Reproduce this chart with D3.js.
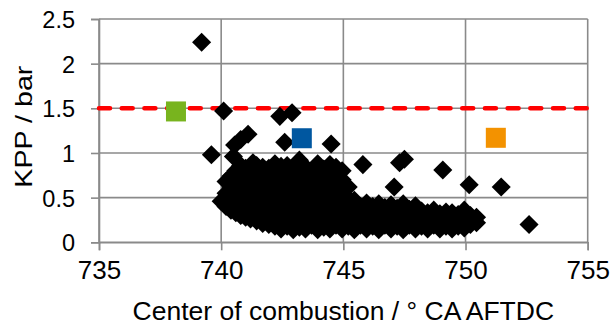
<!DOCTYPE html>
<html>
<head>
<meta charset="utf-8">
<script src="https://cdn.jsdelivr.net/npm/d3@7"></script>
<style>
  html, body { margin: 0; padding: 0; background: #fff; }
  svg { display: block; font-family: Arial, "Liberation Sans", sans-serif; }
</style>
</head>
<body>
<svg id="chart" width="612" height="326"></svg>
<script>
// Axis ticks
const xTicks = [735, 740, 745, 750, 755];
const yTicks = [0, 0.5, 1, 1.5, 2, 2.5];

// KPP limit
const kppLimit = 1.5;

// Individual cycles: [center of combustion (° CA), KPP (bar)]
const cycles = [
  [739.2, 2.24], [740.1, 1.47], [739.6, 0.98], [742.4, 1.41], [742.9, 1.45],
  [740.55, 1.09], [740.8, 1.15], [741.1, 1.21], [742.6, 1.12], [744.5, 1.10],
  [740.5, 0.96], [741.3, 0.89], [743.2, 0.92], [745.8, 0.87], [747.3, 0.89],
  [747.5, 0.93], [749.07, 0.81], [747.08, 0.62], [750.15, 0.645], [751.46, 0.62],
  [752.6, 0.20],
  [740.0, 0.46],
  [740.2, 0.40], [740.2, 0.55], [740.2, 0.68],
  [740.4, 0.36], [740.4, 0.48], [740.4, 0.62], [740.4, 0.74],
  [740.6, 0.33], [740.6, 0.44], [740.6, 0.57], [740.6, 0.70], [740.6, 0.80],
  [740.8, 0.30], [740.8, 0.41], [740.8, 0.52], [740.8, 0.64], [740.8, 0.77], [740.8, 0.86],
  [741.0, 0.28], [741.0, 0.38], [741.0, 0.49], [741.0, 0.60], [741.0, 0.71], [741.0, 0.83],
  [741.2, 0.26], [741.2, 0.36], [741.2, 0.47], [741.2, 0.58], [741.2, 0.69], [741.2, 0.80],
  [741.45, 0.24], [741.45, 0.33], [741.45, 0.44], [741.45, 0.55], [741.45, 0.66], [741.45, 0.77], [741.45, 0.86],
  [741.7, 0.21], [741.7, 0.31], [741.7, 0.42], [741.7, 0.52], [741.7, 0.63], [741.7, 0.74], [741.7, 0.84],
  [741.95, 0.20], [741.95, 0.29], [741.95, 0.39], [741.95, 0.50], [741.95, 0.61], [741.95, 0.72], [741.95, 0.83],
  [742.2, 0.18], [742.2, 0.27], [742.2, 0.37], [742.2, 0.48], [742.2, 0.58], [742.2, 0.69], [742.2, 0.80], [742.2, 0.88],
  [742.45, 0.15], [742.45, 0.25], [742.45, 0.35], [742.45, 0.45], [742.45, 0.56], [742.45, 0.67], [742.45, 0.78], [742.45, 0.85],
  [742.7, 0.18], [742.7, 0.26], [742.7, 0.34], [742.7, 0.44], [742.7, 0.54], [742.7, 0.65], [742.7, 0.76], [742.7, 0.86],
  [742.95, 0.14], [742.95, 0.24], [742.95, 0.33], [742.95, 0.43], [742.95, 0.53], [742.95, 0.63], [742.95, 0.74], [742.95, 0.84],
  [743.2, 0.17], [743.2, 0.25], [743.2, 0.34], [743.2, 0.44], [743.2, 0.55], [743.2, 0.66], [743.2, 0.78],
  [743.45, 0.15], [743.45, 0.23], [743.45, 0.32], [743.45, 0.42], [743.45, 0.52], [743.45, 0.62], [743.45, 0.73], [743.45, 0.84],
  [743.7, 0.19], [743.7, 0.27], [743.7, 0.35], [743.7, 0.45], [743.7, 0.56], [743.7, 0.68], [743.7, 0.80],
  [743.95, 0.14], [743.95, 0.24], [743.95, 0.33], [743.95, 0.43], [743.95, 0.53], [743.95, 0.64], [743.95, 0.76], [743.95, 0.88],
  [744.2, 0.17], [744.2, 0.26], [744.2, 0.36], [744.2, 0.46], [744.2, 0.57], [744.2, 0.69], [744.2, 0.82],
  [744.45, 0.15], [744.45, 0.24], [744.45, 0.34], [744.45, 0.44], [744.45, 0.55], [744.45, 0.66], [744.45, 0.78], [744.45, 0.87],
  [744.7, 0.19], [744.7, 0.27], [744.7, 0.35], [744.7, 0.46], [744.7, 0.58], [744.7, 0.71], [744.7, 0.84],
  [744.95, 0.15], [744.95, 0.24], [744.95, 0.34], [744.95, 0.45], [744.95, 0.57], [744.95, 0.70], [744.95, 0.80],
  [745.2, 0.18], [745.2, 0.26], [745.2, 0.37], [745.2, 0.49], [745.2, 0.62],
  [745.45, 0.14], [745.45, 0.25], [745.45, 0.36], [745.45, 0.47],
  [745.7, 0.19], [745.7, 0.28], [745.7, 0.40],
  [745.95, 0.15], [745.95, 0.25], [745.95, 0.36], [745.95, 0.44],
  [746.2, 0.18], [746.2, 0.27], [746.2, 0.40],
  [746.45, 0.14], [746.45, 0.25], [746.45, 0.35], [746.45, 0.43],
  [746.7, 0.19], [746.7, 0.28], [746.7, 0.39],
  [746.95, 0.15], [746.95, 0.24], [746.95, 0.34], [746.95, 0.42],
  [747.2, 0.18], [747.2, 0.27], [747.2, 0.38],
  [747.45, 0.14], [747.45, 0.25], [747.45, 0.35], [747.45, 0.43],
  [747.7, 0.19], [747.7, 0.27], [747.7, 0.37],
  [747.95, 0.15], [747.95, 0.24], [747.95, 0.33], [747.95, 0.41],
  [748.2, 0.18], [748.2, 0.26], [748.2, 0.35],
  [748.45, 0.15], [748.45, 0.24], [748.45, 0.33],
  [748.7, 0.19], [748.7, 0.27], [748.7, 0.36],
  [748.95, 0.15], [748.95, 0.23], [748.95, 0.32],
  [749.2, 0.18], [749.2, 0.26], [749.2, 0.34],
  [749.45, 0.15], [749.45, 0.24], [749.45, 0.33],
  [749.7, 0.18], [749.7, 0.24], [749.7, 0.31],
  [749.95, 0.16], [749.95, 0.26], [749.95, 0.36],
  [750.2, 0.20], [750.2, 0.30],
  [750.45, 0.22], [750.45, 0.28]
];

// Highlighted operating points
const highlightNames = ["green", "blue", "orange"];
const highlightCenter = [738.15, 743.3, 751.24];
const highlightKpp = [1.465, 1.165, 1.17];
const highlightColors = ["#78B41E", "#0057A0", "#F39200"];

const svg = d3.select("#chart");
const plotLeft = 99, plotRight = 587.7, plotTop = 19, plotBottom = 242.3;

const x = d3.scaleLinear().domain([735, 755]).range([plotLeft, plotRight]);
const y = d3.scaleLinear().domain([0, 2.5]).range([plotBottom, plotTop]);

const gridColor = "#8a8a8a";

// Grid lines
svg.append("g").selectAll("line")
  .data(yTicks).join("line")
  .attr("x1", plotLeft).attr("x2", plotRight)
  .attr("y1", d => y(d)).attr("y2", d => y(d))
  .attr("stroke", gridColor).attr("stroke-width", 1.6);

svg.append("g").selectAll("line")
  .data(xTicks).join("line")
  .attr("x1", d => x(d)).attr("x2", d => x(d))
  .attr("y1", plotTop).attr("y2", plotBottom)
  .attr("stroke", gridColor).attr("stroke-width", 1.6);

// Axes
const yAxis = svg.append("g")
  .attr("transform", `translate(${plotLeft},0)`)
  .call(d3.axisLeft(y).tickValues(yTicks).tickSize(8).tickPadding(16)
    .tickFormat(d => String(d)));
const xAxis = svg.append("g")
  .attr("transform", `translate(0,${plotBottom})`)
  .call(d3.axisBottom(x).tickValues(xTicks).tickSize(8).tickPadding(10)
    .tickFormat(d3.format("d")));

[yAxis, xAxis].forEach(g => {
  g.select(".domain").attr("stroke", gridColor).attr("stroke-width", 1.6);
  g.selectAll(".tick line").attr("stroke", gridColor).attr("stroke-width", 1.6);
  g.selectAll(".tick text").attr("fill", "#000")
    .attr("font-family", "Arial, 'Liberation Sans', sans-serif");
});
yAxis.selectAll(".tick text").attr("font-size", 23.5).attr("dy", "0.36em");
xAxis.selectAll(".tick text").attr("font-size", 26).attr("dy", "0.71em");

// KPP limit line
svg.append("line")
  .attr("x1", x(735)).attr("x2", x(755))
  .attr("y1", y(kppLimit)).attr("y2", y(kppLimit))
  .attr("stroke", "#ff0000").attr("stroke-width", 4.5)
  .attr("stroke-linecap", "round")
  .attr("stroke-dasharray", "11 11.7");

// Cycle markers (diamonds)
const diamond = d3.symbol(d3.symbolSquare, 182)();
svg.append("g").selectAll("path")
  .data(cycles).join("path")
  .attr("d", diamond)
  .attr("transform", d => `translate(${x(d[0])},${y(d[1])}) rotate(45)`)
  .attr("fill", "#000");

// Highlighted operating points
svg.append("g").selectAll("rect")
  .data(highlightNames).join("rect")
  .attr("x", (d, i) => x(highlightCenter[i]) - 10)
  .attr("y", (d, i) => y(highlightKpp[i]) - 10)
  .attr("width", 20).attr("height", 20)
  .attr("fill", (d, i) => highlightColors[i]);

// Axis titles
svg.append("text")
  .attr("x", (plotLeft + plotRight) / 2).attr("y", 320)
  .attr("text-anchor", "middle")
  .attr("font-size", 26.5)
  .text("Center of combustion / ° CA AFTDC");

svg.append("text")
  .attr("transform", `translate(31.5,${(plotTop + plotBottom) / 2 - 4}) rotate(-90)`)
  .attr("text-anchor", "middle")
  .attr("font-size", 24)
  .attr("textLength", 122)
  .attr("lengthAdjust", "spacingAndGlyphs")
  .text("KPP / bar");
</script>
</body>
</html>
